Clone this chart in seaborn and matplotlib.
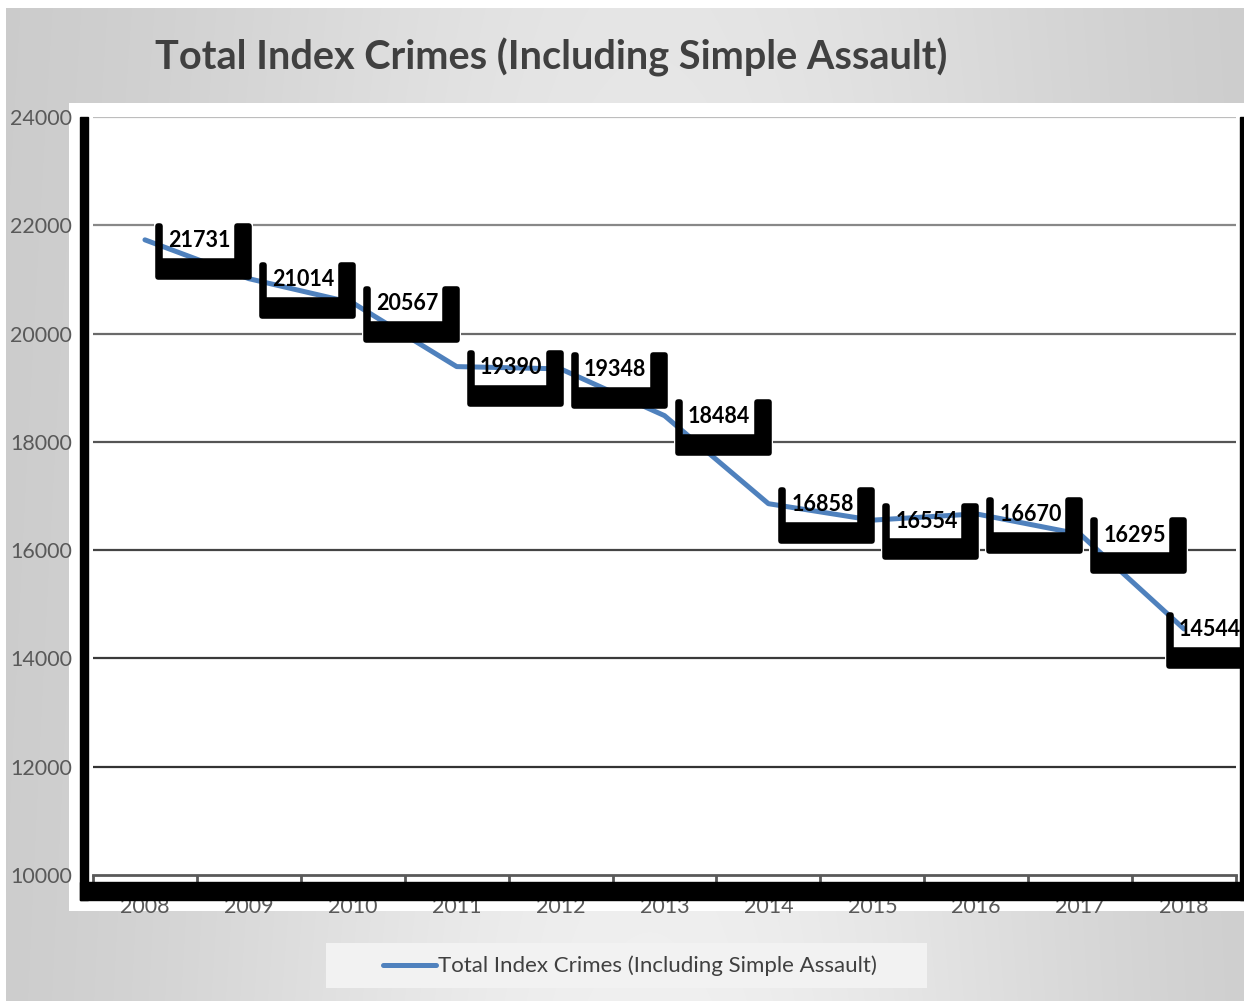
import numpy as np
import matplotlib

matplotlib.use("Agg")
import matplotlib.pyplot as plt
import seaborn as sns
import pandas as pd
from matplotlib.patches import Rectangle, Polygon
from matplotlib.lines import Line2D
from matplotlib.transforms import IdentityTransform

# chart data
years = ["2008", "2009", "2010", "2011", "2012", "2013",
         "2014", "2015", "2016", "2017", "2018"]
crimes = [21731, 21014, 20567, 19390, 19348, 18484,
          16858, 16554, 16670, 16295, 14544]
y_ticks = [10000, 12000, 14000, 16000, 18000, 20000, 22000, 24000]
title = "Total Index Crimes (Including Simple Assault)"

W, H = 1244, 1001
sns.set_theme(style="white")
plt.rcParams["font.family"] = ["Lato", "DejaVu Sans"]

fig = plt.figure(figsize=(W / 100, H / 100), dpi=100)
fig.patch.set_facecolor("white")


def px(x, y):
    # top-origin pixel -> figure fraction
    return x / W, 1 - y / H


# grey gradient chart area
gh, gw = H - 8, W - 6
xx = np.linspace(0, 1, gw)[None, :]
yy = np.linspace(0, 1, gh)[:, None]
shade = 0.78 + 0.16 * np.exp(-((xx - 0.52) / 0.38) ** 2) * (0.75 + 0.25 * yy)
bg = np.repeat(shade[:, :, None], 3, axis=2)
fig.figimage(bg, xo=6, yo=0, origin="upper", zorder=-5)

# white plot panel
x0, y0 = px(69, 911)
fig.add_artist(Rectangle((x0, y0), (W - 69) / W, (911 - 103) / H,
                         transform=fig.transFigure, facecolor="white",
                         edgecolor="none", zorder=-1))

left, top = px(93, 117)
right, bottom = px(1236, 875)
ax = fig.add_axes([left, bottom, right - left, top - bottom])
ax.set_facecolor("none")

df = pd.DataFrame({"pos": np.arange(len(years)), "value": crimes})
sns.lineplot(data=df, x="pos", y="value", ax=ax, color="#4F81BD",
             linewidth=3.6, zorder=3, label=title, legend=False)

ax.set_xlim(-0.5, len(years) - 0.5)
ax.set_ylim(y_ticks[0], y_ticks[-1])
ax.set_xticks(np.arange(len(years)))
ax.set_xticklabels(years)
ax.set_xticks(np.arange(len(years) + 1) - 0.5, minor=True)
ax.set_yticks(y_ticks)
ax.set_yticklabels([str(t) for t in y_ticks])
ax.set_xlabel("")
ax.set_ylabel("")
ax.tick_params(axis="x", which="major", length=0, pad=16, labelsize=15.5,
               labelcolor="#595959")
ax.tick_params(axis="x", which="minor", length=5, width=2, color="#595959",
               direction="out", bottom=True)
ax.tick_params(axis="y", length=0, pad=15, labelsize=15.5, labelcolor="#595959")
for s in ["left", "right", "top"]:
    ax.spines[s].set_visible(False)
ax.spines["bottom"].set_color("#595959")
ax.spines["bottom"].set_linewidth(2)

grid_cols = ["#333333", "#3a3a3a", "#444444", "#555555", "#6a6a6a", "#888888", "#bdbdbd"]
for t, c in zip(y_ticks[1:], grid_cols):
    ax.axhline(t, color=c, linewidth=1.6, zorder=1)

# black shadow frame around the plot
frame = [(80, 117, 8, 783), (80, 882, 1164, 18), (1240, 117, 4, 783)]
for fx, fy, fw, fh in frame:
    bx, by = px(fx, fy + fh)
    fig.add_artist(Rectangle((bx, by), fw / W, fh / H, transform=fig.transFigure,
                             facecolor="black", edgecolor="black", zorder=5))

# data labels with shadowed callout boxes
fig.canvas.draw()
for i, v in enumerate(crimes):
    dx, dy = ax.transData.transform((i, v))
    shift = min(0, 1240 - (dx + 84))
    bx = dx + shift
    white = Rectangle((bx + 9, dy - 40), 99, 58, transform=IdentityTransform(),
                      facecolor="white", edgecolor="none", zorder=2,
                      clip_on=False)
    ax.add_artist(white)
    u = [(bx + 13, dy + 14), (bx + 15, dy + 14), (bx + 15, dy - 21),
         (bx + 92, dy - 21), (bx + 92, dy + 14), (bx + 104, dy + 14),
         (bx + 104, dy - 37), (bx + 13, dy - 37)]
    shape = Polygon(u, closed=True, transform=IdentityTransform(),
                    facecolor="black", edgecolor="black", linewidth=4,
                    joinstyle="round", zorder=4, clip_on=False)
    ax.add_artist(shape)
    ax.annotate(f"{v}", xy=(i, v), xytext=(23 + shift, -1),
                textcoords="offset pixels", ha="left", va="center",
                fontsize=15.5, fontweight="bold", color="black", zorder=6,
                annotation_clip=False)

fig.text(551 / W, 1 - 57 / H, title, ha="center", va="center",
         fontsize=28.5, fontweight="bold", color="#404040")

# legend
lx, ly = px(326, 988)
fig.add_artist(Rectangle((lx, ly), 601 / W, 45 / H, transform=fig.transFigure,
                         facecolor="#f2f2f2", edgecolor="none", zorder=1))
handle = Line2D([], [], color="#4F81BD", linewidth=3.6, solid_capstyle="round")
fig.legend([handle], [title], loc="center", bbox_to_anchor=px(630, 966),
           frameon=False, fontsize=16, labelcolor="#404040", handlelength=2.4,
           handletextpad=0.1)

fig.savefig("out.png", dpi=100)
